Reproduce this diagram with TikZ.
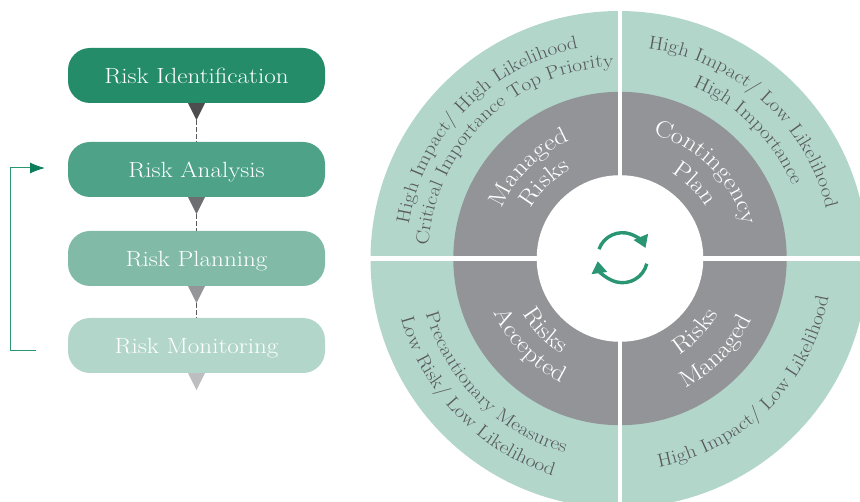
\documentclass[tikz,border=0pt]{standalone}
\usepackage{fontspec}
\setmainfont{Latin Modern Roman}[FakeStretch=1.14]
\usetikzlibrary{arrows.meta, calc, decorations.text}
\definecolor{riskone}{HTML}{248C69}
\definecolor{risktwo}{HTML}{4DA287}
\definecolor{riskthree}{HTML}{81BBA7}
\definecolor{riskfour}{HTML}{B3D6CB}
\definecolor{ringgray}{HTML}{939498}
\definecolor{ringtext}{HTML}{58595B}
\definecolor{loopgreen}{HTML}{2A9573}
\definecolor{tipgreen}{HTML}{0B7F5C}
\definecolor{tipone}{HTML}{4D4D4F}
\definecolor{tiptwo}{HTML}{6D6E71}
\definecolor{tipthree}{HTML}{939598}
\definecolor{tipfour}{HTML}{BCBEC0}
\tikzset{
  riskbox/.style={rounded corners=22pt, minimum width=257pt, minimum height=55pt, inner sep=0pt, text height=18pt, text depth=2.4pt, text=white, font=\fontsize{22}{22}\selectfont},
  dashline/.style={draw=ringtext, line width=1.6pt, dash pattern=on 4.5pt off 2.5pt},
  gapline/.style={draw=white, line width=4.8pt},
  cycle/.style={draw=loopgreen, line width=3.4pt}
}
\newcommand{\darkfont}{\fontsize{18.7}{18.7}\selectfont\color{ringtext}}
\newcommand{\lightfont}{\fontsize{23.5}{23.5}\selectfont\color{white}}
\newcommand{\ringtext}[5]{\path[decorate, decoration={text along path, text align=center, text={|#4|#5}}] ($(cen)+(#1:#3)$) arc[start angle=#1, end angle=#2, radius=#3];}
\begin{document}
\begin{tikzpicture}[x=1pt, y=1pt]
\useasboundingbox (0, 0) rectangle (860, 501);
\clip (0, 0) rectangle (860, 501);
% left column
\node[riskbox, fill=riskone] at (196.5, 425.5) (ident) {Risk Identification};
\node[riskbox, fill=risktwo] at (196.5, 331.5) (analysis) {Risk Analysis};
\node[riskbox, fill=riskthree] at (196.5, 242.5) (planning) {Risk Planning};
\node[riskbox, fill=riskfour] at (196.5, 155.5) (monitoring) {Risk Monitoring};
\coordinate (tipa) at ($(ident.south)+(0,-17)$);
\coordinate (tipb) at ($(analysis.south)+(0,-17)$);
\coordinate (tipc) at ($(planning.south)+(0,-17)$);
\coordinate (tipd) at ($(monitoring.south)+(0,-17)$);
\draw[dashline] (tipa) -- (analysis.north);
\draw[dashline] (tipb) -- (planning.north);
\draw[dashline] (tipc) -- (monitoring.north);
\fill[fill=tipone] ($(ident.south)+(-8.5,0)$) -- ($(ident.south)+(8.5,0)$) -- (tipa) -- cycle;
\fill[fill=tiptwo] ($(analysis.south)+(-8.5,0)$) -- ($(analysis.south)+(8.5,0)$) -- (tipb) -- cycle;
\fill[fill=tipthree] ($(planning.south)+(-8.5,0)$) -- ($(planning.south)+(8.5,0)$) -- (tipc) -- cycle;
\fill[fill=tipfour] ($(monitoring.south)+(-8.5,0)$) -- ($(monitoring.south)+(8.5,0)$) -- (tipd) -- cycle;
% feedback
\coordinate (fbstart) at (35.5, 150);
\coordinate (fbend) at (45, 333);
\draw[draw=loopgreen, line width=1pt, -{Latex[length=15pt, width=11pt, color=tipgreen]}] (fbstart) -- (10, 150) -- (10, 333) -- (fbend);
% ring
\coordinate (cen) at (620, 242.5);
\fill[riskfour] ($(cen)+(-1,-1)$) circle (248.5);
\fill[ringgray] (cen) circle (166.7);
\fill[white] (cen) circle (83.3);
\coordinate (gapn) at ($(cen)+(0,250)$);
\coordinate (gaps) at ($(cen)+(0,-250)$);
\coordinate (gape) at ($(cen)+(250,0)$);
\coordinate (gapw) at ($(cen)+(-250,0)$);
\draw[gapline] (gapn) -- ($(cen)+(0,83)$);
\draw[gapline] (gaps) -- ($(cen)+(0,-83)$);
\draw[gapline] (gape) -- ($(cen)+(83,0)$);
\draw[gapline] (gapw) -- ($(cen)+(-83,0)$);
% ring text
\ringtext{180}{92}{214}{\darkfont}{High Impact/ High Likelihood}
\ringtext{180}{88}{192}{\darkfont}{Critical Importance Top Priority}
\ringtext{91}{5}{212}{\darkfont}{High Impact/ Low Likelihood}
\ringtext{92}{-2}{187}{\darkfont}{High Importance}
\ringtext{180}{268}{227}{\darkfont}{Low Risk/ Low Likelihood}
\ringtext{181}{269}{202}{\darkfont}{Precautionary Measures}
\ringtext{271}{359}{212}{\darkfont}{High Impact/ Low Likelihood}
\ringtext{180}{90}{128}{\lightfont}{Managed}
\ringtext{180}{90}{102}{\lightfont}{Risks}
\ringtext{90}{0}{128}{\lightfont}{Contingency}
\ringtext{90}{0}{100}{\lightfont}{Plan}
\ringtext{180}{268}{137}{\lightfont}{Accepted}
\ringtext{180}{268}{112}{\lightfont}{Risks}
\ringtext{272}{360}{145}{\lightfont}{Managed}
\ringtext{272}{360}{113}{\lightfont}{Risks}
% centre arrows
\coordinate (loopc) at (622.5, 243.3);
\draw[cycle, -{Triangle[length=12pt, width=15pt]}] ($(loopc)+(160:25)$) arc[start angle=160, end angle=23, radius=25];
\draw[cycle, -{Triangle[length=12pt, width=15pt]}] ($(loopc)+(-14:25)$) arc[start angle=-14, end angle=-172, radius=25];
\end{tikzpicture}
\end{document}
